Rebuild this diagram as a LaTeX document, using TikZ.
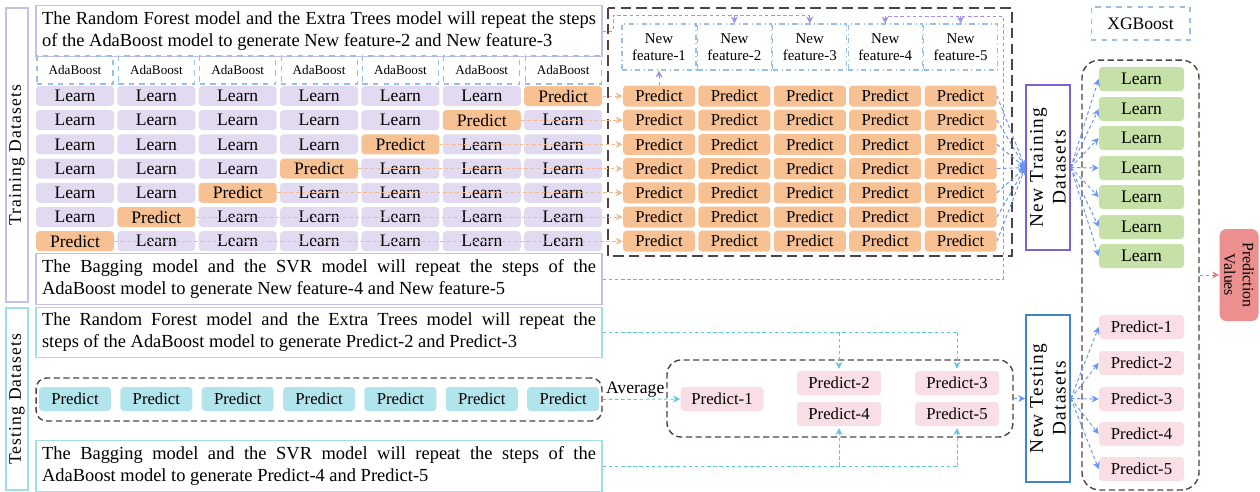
\documentclass[tikz,border=0pt]{standalone}
\usepackage{fontspec}
\setmainfont{Liberation Serif}
\newfontfamily\spaced[LetterSpace=6.5]{Liberation Serif}
\usetikzlibrary{arrows.meta}

\definecolor{lavender}{RGB}{225,218,240}
\definecolor{peach}{RGB}{247,193,148}
\definecolor{lilacline}{RGB}{200,190,232}
\definecolor{skyline}{RGB}{150,192,230}
\definecolor{aqua}{RGB}{178,228,236}
\definecolor{aqualine}{RGB}{160,222,234}
\definecolor{darkdash}{RGB}{82,66,66}
\definecolor{violetarrow}{RGB}{165,145,228}
\definecolor{bluearrow}{RGB}{105,150,240}
\definecolor{peacharrow}{RGB}{245,185,140}
\definecolor{cyanarrow}{RGB}{95,200,225}
\definecolor{leaf}{RGB}{198,225,167}
\definecolor{blush}{RGB}{250,222,229}
\definecolor{coral}{RGB}{236,143,143}
\definecolor{coralarrow}{RGB}{232,120,120}
\definecolor{violetbox}{RGB}{125,95,215}
\definecolor{bluebox}{RGB}{60,135,200}

\tikzset{
  cell/.style={rounded corners=2pt, inner sep=0pt, minimum width=1.56cm, minimum height=0.4cm, font=\fontsize{10}{12}\selectfont},
  learncell/.style={cell, fill=lavender},
  predcell/.style={cell, fill=peach},
  notebox/.style={draw, line width=0.7pt, inner xsep=0.12cm, text width=11.08cm, minimum height=0.92cm, align=justify, font=\fontsize{10.5}{12.5}\selectfont},
  sidebox/.style={draw, line width=0.7pt, rotate=90, inner sep=0pt, minimum height=0.44cm, font=\spaced\fontsize{10}{12}\selectfont},
  newbox/.style={draw, line width=0.9pt, rotate=90, inner sep=0pt, minimum height=0.88cm, align=center, font=\spaced\fontsize{11}{13}\selectfont},
  adabox/.style={draw=skyline, dashed, line width=0.6pt, minimum width=1.52cm, minimum height=0.56cm, inner sep=0pt, font=\fontsize{7.5}{9}\selectfont},
  featbox/.style={draw=skyline, dash dot, line width=0.6pt, minimum width=1.48cm, minimum height=0.92cm, inner sep=0pt, align=center, font=\fontsize{8.5}{9.5}\selectfont},
  groupbox/.style={draw=darkdash, dash pattern=on 3.5pt off 2pt, line width=0.8pt, rounded corners=7pt, inner sep=0pt},
  flow/.style={dash pattern=on 2pt off 1.5pt, line width=0.55pt},
  arrowed/.style={flow, -{Stealth[length=4pt,width=4pt]}}
}

\begin{document}
\begin{tikzpicture}[x=0.02cm, y=-0.02cm]
  \useasboundingbox (0,0) rectangle (1260,491);

  \node[sidebox, draw=lilacline, minimum width=5.88cm] (train) at (17,155) {Training Datasets};
  \node[sidebox, draw=aqualine, minimum width=3.64cm] (test) at (17,399) {Testing Datasets};

  \node[notebox, draw=lilacline] (rfnote) at (319,31) {The Random Forest model and the Extra Trees model will repeat the steps\linebreak of the AdaBoost model to generate New feature-2 and New feature-3};
  \node[notebox, draw=lilacline] (bagnote) at (319,279) {The Bagging model and the SVR model will repeat the steps of the\linebreak AdaBoost model to generate New feature-4 and New feature-5};
  \node[notebox, draw=aqualine] (rftest) at (319,332.5) {The Random Forest model and the Extra Trees model will repeat the\linebreak steps of the AdaBoost model to generate Predict-2 and Predict-3};
  \node[notebox, draw=aqualine] (bagtest) at (319,466) {The Bagging model and the SVR model will repeat the steps of the\linebreak AdaBoost model to generate Predict-4 and Predict-5};

  \foreach \c in {0,...,6}
    \node[adabox] (ada\c) at ({75+81.36*\c},70) {AdaBoost};

  \foreach \r in {0,...,6}{
    \pgfmathtruncatemacro\p{6-\r}
    \foreach \c in {0,...,6}{
      \ifnum\c=\p
        \node[predcell] (L\r-\c) at ({75+81.36*\c},{96+24.2*\r}) {Predict};
      \else
        \node[learncell] (L\r-\c) at ({75+81.36*\c},{96+24.2*\r}) {Learn};
      \fi
    }
  }

  \draw[darkdash, dash pattern=on 6pt off 3pt, line width=1.1pt] (608,8) rectangle (1012,256);

  \foreach \c [count=\n] in {0,...,4}
    \node[featbox] (nf\n) at ({659+75.4*\c},47) {New\\feature-\n};

  \foreach \r in {0,...,6}
    \foreach \c in {0,...,4}
      \node[predcell, minimum width=1.44cm, minimum height=0.42cm, font=\fontsize{9.5}{11}\selectfont] (P\r-\c) at ({659+75.4*\c},{96+24.2*\r}) {Predict};

  \foreach \r in {0,...,6}{
    \pgfmathtruncatemacro\p{6-\r}
    \draw[arrowed, peacharrow] (L\r-\p.east) -- (P\r-0.west);
  }

  \coordinate (vtopL) at (613,15);
  \coordinate (vtopR) at (1003,16);
  \draw[flow, violetarrow] (rfnote.east) -| (vtopL) -- (vtopL -| nf3.north);
  \draw[flow, violetarrow] (bagnote.east) -| (vtopR) -- (vtopR -| nf4.north);
  \foreach \n in {2,3}
    \draw[arrowed, violetarrow] (vtopL -| nf\n.north) -- (nf\n.north);
  \foreach \n in {4,5}
    \draw[arrowed, violetarrow] (vtopR -| nf\n.north) -- (nf\n.north);
  \draw[arrowed, violetarrow] (P0-0.north) -- (nf1.south);

  \node[newbox, draw=violetbox, minimum width=3.3cm] (ntrain) at (1048,167.5) {New Training\\Datasets};
  \node[newbox, draw=bluebox, minimum width=3.34cm] (ntest) at (1048,398.5) {New Testing\\Datasets};

  \foreach \r in {0,...,6}
    \draw[arrowed, bluearrow] (P\r-4.east) -- (ntrain.north);

  \node[draw=skyline, dashed, line width=0.6pt, minimum width=1.98cm, minimum height=0.66cm, font=\fontsize{10}{12}\selectfont] (xgb) at (1140.5,23.5) {XGBoost};
  \node[groupbox, rounded corners=10pt, minimum width=2.34cm, minimum height=8.6cm] (xgroup) at (1140.5,275) {};

  \foreach \y [count=\k] in {79,109,138,168,197,227,256}{
    \node[cell, fill=leaf, minimum width=1.7cm, minimum height=0.48cm] (G\k) at (1141.5,\y) {Learn};
    \draw[arrowed, bluearrow] (ntrain.south) -- (G\k.west);
  }
  \foreach \y [count=\k] in {327,363,399,434,469}{
    \node[cell, fill=blush, minimum width=1.7cm, minimum height=0.48cm, font=\fontsize{9.5}{11}\selectfont] (R\k) at (1141.5,\y) {Predict-\k};
    \draw[arrowed, bluearrow] (ntest.south) -- (R\k.west);
  }

  \node[fill=coral, rounded corners=4pt, rotate=-90, minimum width=1.84cm, minimum height=0.78cm, inner sep=0pt, align=center, font=\fontsize{9}{10.5}\selectfont] (predval) at (1239,275) {Prediction\\Values};
  \draw[arrowed, coralarrow] (xgroup.east) -- (predval.south);

  \node[groupbox, rounded corners=6pt, minimum width=11.32cm, minimum height=0.86cm] (tgroup) at (319,399.5) {};
  \foreach \c in {0,...,6}
    \node[cell, fill=aqua, minimum width=1.44cm, minimum height=0.48cm, font=\fontsize{9.5}{11}\selectfont] (T\c) at ({75+81.36*\c},399) {Predict};

  \node[groupbox, rounded corners=8pt, minimum width=6.92cm, minimum height=1.54cm] (qgroup) at (840,398.5) {};
  \node[cell, fill=blush, minimum width=1.66cm, minimum height=0.48cm, font=\fontsize{9.5}{11}\selectfont] (q1) at (722,399) {Predict-1};
  \node[cell, fill=blush, minimum width=1.68cm, minimum height=0.48cm, font=\fontsize{9.5}{11}\selectfont] (q2) at (839,383) {Predict-2};
  \node[cell, fill=blush, minimum width=1.68cm, minimum height=0.48cm, font=\fontsize{9.5}{11}\selectfont] (q3) at (957,383) {Predict-3};
  \node[cell, fill=blush, minimum width=1.68cm, minimum height=0.48cm, font=\fontsize{9.5}{11}\selectfont] (q4) at (839,414) {Predict-4};
  \node[cell, fill=blush, minimum width=1.68cm, minimum height=0.48cm, font=\fontsize{9.5}{11}\selectfont] (q5) at (957,414) {Predict-5};

  \draw[arrowed, cyanarrow] (tgroup.east) -- node[above, pos=0.42, inner sep=1pt, text=black, font=\fontsize{10}{12}\selectfont] {Average} (q1.west);
  \draw[flow, cyanarrow] (rftest.east) -- (rftest.east -| q3.north);
  \draw[flow, cyanarrow] (bagtest.east) -- (bagtest.east -| q5.south);
  \foreach \n in {2,3}
    \draw[arrowed, cyanarrow, shorten >=1pt] (rftest.east -| q\n.north) -- (q\n.north);
  \foreach \n in {4,5}
    \draw[arrowed, cyanarrow, shorten >=1pt] (bagtest.east -| q\n.south) -- (q\n.south);
  \draw[arrowed, bluearrow] (qgroup.east) -- (ntest.north);
\end{tikzpicture}
\end{document}
